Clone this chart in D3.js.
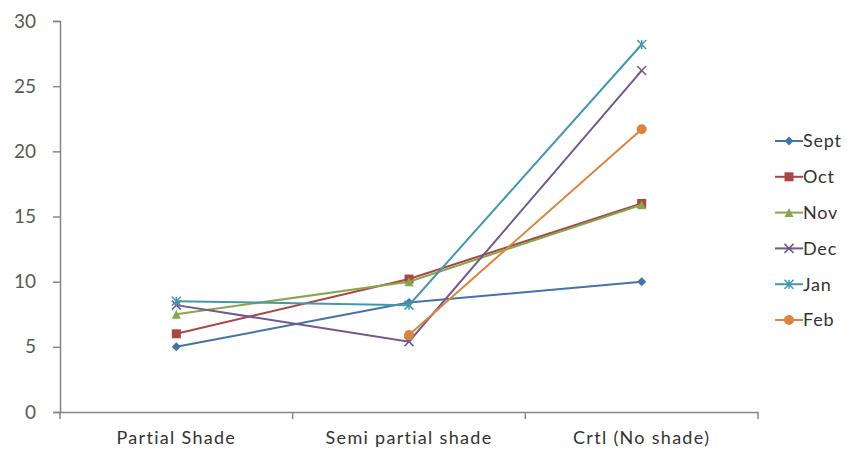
<!DOCTYPE html>
<html>
<head>
<meta charset="utf-8">
<script src="https://cdn.jsdelivr.net/npm/d3@7"></script>
<style>
  body { margin: 0; background: #fff; }
  text { font-family: Lato, "Open Sans", sans-serif; }
</style>
</head>
<body>
<svg width="850" height="457"></svg>
<script>
const categories = ["Partial Shade", "Semi partial shade", "Crtl (No shade)"];
const months = ["Sept", "Oct", "Nov", "Dec", "Jan", "Feb"];
const sept = [5, 8.4, 10];
const oct = [6, 10.2, 16];
const nov = [7.5, 10, 15.9];
const dec = [8.2, 5.4, 26.2];
const jan = [8.5, 8.2, 28.2];
const feb = [null, 5.9, 21.7];
const yTicks = [0, 5, 10, 15, 20, 25, 30];

const seriesValues = [sept, oct, nov, dec, jan, feb];
const colors = ["#4572A7", "#AA4643", "#89A54E", "#71588F", "#4198AF", "#DB843D"];
const shapes = ["diamond", "square", "triangle", "cross", "star", "circle"];

const svg = d3.select("svg");
const plot = { left: 60, right: 758, top: 21, bottom: 412 };

const x = d3.scaleBand().domain(categories).range([plot.left, plot.right]);
const y = d3.scaleLinear().domain([0, 30]).range([plot.bottom, plot.top]);

// y axis
const yAxis = svg.append("g")
    .attr("transform", `translate(${plot.left},0)`)
    .call(d3.axisLeft(y).tickValues(yTicks).tickSize(7).tickPadding(17));
yAxis.select(".domain").attr("stroke", "#868686").attr("stroke-width", 1.5);
yAxis.selectAll(".tick line").attr("stroke", "#868686").attr("stroke-width", 1.5);
yAxis.selectAll("text").attr("fill", "#595959").style("font-size", "19px");

// x axis
const xAxis = svg.append("g")
    .attr("transform", `translate(0,${plot.bottom})`)
    .call(d3.axisBottom(x).tickSize(0).tickPadding(19));
xAxis.select(".domain").attr("stroke", "#868686").attr("stroke-width", 1.5);
xAxis.selectAll("text").attr("fill", "#333").style("font-size", "18px").style("letter-spacing", "1.3px");
const edges = categories.map(c => x(c)).concat([plot.right]);
xAxis.selectAll(".edge").data(edges).enter().append("line")
    .attr("x1", d => d).attr("x2", d => d)
    .attr("y1", 0).attr("y2", 7)
    .attr("stroke", "#868686").attr("stroke-width", 1.5);

const cx = c => x(c) + x.bandwidth() / 2;

function marker(g, shape, color, px, py) {
    const s = 4.5;
    if (shape === "diamond") {
        g.append("path").attr("d", `M${px},${py - s}L${px + s},${py}L${px},${py + s}L${px - s},${py}Z`).attr("fill", color);
    } else if (shape === "square") {
        g.append("rect").attr("x", px - s).attr("y", py - s).attr("width", 2 * s).attr("height", 2 * s).attr("fill", color);
    } else if (shape === "triangle") {
        g.append("path").attr("d", `M${px},${py - s}L${px + s},${py + s}L${px - s},${py + s}Z`).attr("fill", color);
    } else if (shape === "cross") {
        g.append("path").attr("d", `M${px - s},${py - s}L${px + s},${py + s}M${px - s},${py + s}L${px + s},${py - s}`)
            .attr("stroke", color).attr("stroke-width", 1.5);
    } else if (shape === "star") {
        g.append("path").attr("d", `M${px - s},${py - s}L${px + s},${py + s}M${px - s},${py + s}L${px + s},${py - s}M${px},${py - s}L${px},${py + s}`)
            .attr("stroke", color).attr("stroke-width", 1.5);
    } else {
        g.append("circle").attr("cx", px).attr("cy", py).attr("r", s + 0.5).attr("fill", color);
    }
}

const line = d3.line()
    .defined(d => d.v !== null)
    .x(d => cx(d.c))
    .y(d => y(d.v));

seriesValues.forEach((vals, i) => {
    const pts = vals.map((v, j) => ({ c: categories[j], v }));
    const g = svg.append("g");
    g.append("path").datum(pts)
        .attr("d", line)
        .attr("fill", "none")
        .attr("stroke", colors[i])
        .attr("stroke-width", 2);
    pts.filter(d => d.v !== null).forEach(d => marker(g, shapes[i], colors[i], cx(d.c), y(d.v)));
});

// legend
const legend = svg.append("g").attr("transform", "translate(775,141)");
months.forEach((m, i) => {
    const g = legend.append("g").attr("transform", `translate(0,${i * 35.8})`);
    g.append("line").attr("x1", 0).attr("x2", 28).attr("y1", 0).attr("y2", 0)
        .attr("stroke", colors[i]).attr("stroke-width", 2);
    marker(g, shapes[i], colors[i], 14, 0);
    g.append("text").attr("x", 28).attr("y", 0).attr("dy", "0.35em")
        .attr("fill", "#333").style("font-size", "18px").style("letter-spacing", "0.8px").text(m);
});
</script>
</body>
</html>
